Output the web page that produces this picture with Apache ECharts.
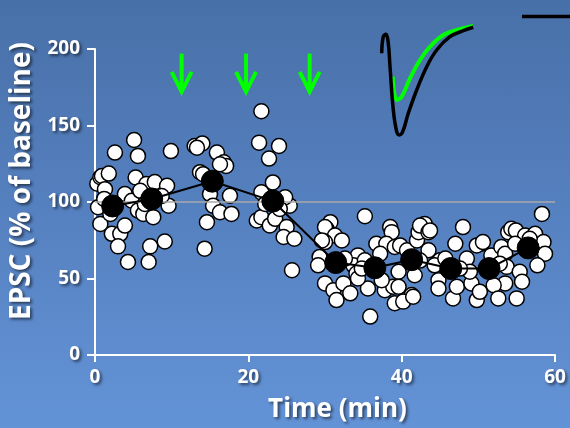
<!DOCTYPE html>
<html><head><meta charset="utf-8">
<script src="https://cdn.jsdelivr.net/npm/echarts@6/dist/echarts.min.js"></script>
<style>
html,body{margin:0;padding:0;width:570px;height:428px;overflow:hidden;}
body{background:linear-gradient(to bottom,#4870a8 0%,#5681c0 50%,#6393d7 100%);}
#c{width:570px;height:428px;}
</style></head>
<body><div id="c"></div>
<script>
// Individual EPSC values: [time (min), % of baseline]
const pointTimes = [0.3,0.7,0.9,1.3,1.8,0.4,0.7,2.2,3.3,3.9,3.0,4.3,2.6,5.1,5.6,5.3,3.9,4.8,5.6,6.3,6.7,5.9,7.8,9.4,7.6,9.6,7.2,9.1,7.0,9.9,6.5,8.7,2.0,1.2,
 13.0,14.0,13.3,15.9,16.8,17.1,16.3,13.7,14.1,17.6,15.0,15.4,16.3,17.8,14.6,14.3,
 21.7,21.4,24.0,22.7,23.2,21.7,21.1,21.7,22.8,23.5,25.0,24.6,26.0,25.4,24.8,25.7,22.2,24.1,
 30.7,30.2,30.0,31.3,32.2,30.0,29.6,29.3,29.1,34.3,33.7,34.1,30.0,31.1,31.5,32.4,33.3,35.9,35.2,38.5,38.7,36.7,38.0,37.2,39.1,35.6,37.8,38.9,39.1,37.4,35.2,34.3,32.6,34.8,
 39.6,39.8,40.7,42.0,42.2,43.0,42.4,43.5,43.7,43.5,41.7,39.6,41.3,40.2,41.5,48.0,47.0,45.0,44.3,45.7,44.8,44.8,46.7,47.2,48.5,49.1,48.9,49.8,50.4,49.8,42.4,47.6,
 50.6,51.7,53.0,53.5,53.7,55.4,55.7,53.5,52.0,52.6,55.0,50.2,53.9,54.3,54.9,56.1,57.4,58.5,58.7,57.7,58.3,56.7,54.8,52.8];
const pointValues = [112,116.2,117,108.4,118.6,96.6,85.7,79.2,79.2,84.6,71,60.8,132.3,140.5,130.1,116,105.2,100.8,94.4,92.2,111.7,107.3,113,110.6,90.1,97.6,71,74.2,60.8,133.3,98.7,103.9,92.2,102,
 136.6,138.3,135.5,132.3,126,123.6,124.7,119.5,118.2,104.1,105.2,97.6,93.3,92.2,86.8,69.5,
 159.3,138.8,136.6,128.4,112.8,106.3,87.9,90.1,84.7,89,83.6,77.1,76,97.6,103.1,55.4,98.7,95.5,
 86.8,82.5,83.6,78.1,74.9,73.8,74.9,64.1,58.6,65.1,58.6,53.2,46.8,42.4,35.9,46.8,40.3,25.1,90.7,83.6,80.3,72.7,72.7,66.2,70.6,43.5,42.4,44.6,33.8,48.9,61.9,50,63,56.5,
 54.4,71.6,68.4,74.9,80.3,85.7,84.6,80.3,81.4,68.4,52.1,44.6,39.2,34.9,38.1,83.6,72.7,61.9,58.6,63,48.9,43.5,37,44.6,63,46.8,54.4,35.9,72.7,71.6,61.7,56.5,
 73.8,65.1,70.6,66.2,57.6,54.4,47.9,46.8,45.6,37,37,41.3,80.3,82.5,81.4,78.1,79.2,73.8,66.2,58.6,92.2,76,72.7,59.7];
// 5-min averages
const meanTimes = [2.3,7.4,15.3,23.2,31.4,36.5,41.3,46.4,51.4,56.5];
const meanValues = [97.4,102,113.6,100.6,60.4,57,62.3,56.5,56.5,70];
// Stimulation arrows (min)
const arrowTimes = [11.3,19.7,28.0];
// Axis ticks
const xTicks = [0,20,40,60];
const yTicks = [0,50,100,150,200];
// Inset EPSC traces (ms, arbitrary current units)
const traceBaseT = [1.7,3.3,6.0,8.3,10.0,13.3,16.7,19.3,22.7,28.3,36.7,46.7,56.7,70.0,83.3,93.3];
const traceBaseI = [-43.3,-26.7,-24.3,-33.3,-56.7,-100,-121.7,-125,-121.7,-103.3,-80,-56.7,-40,-26.7,-20.7,-17.3];
const traceDrugT = [12.7,16.7,21.7,30.0,40.0,50.0,63.3,76.7,93.3];
const traceDrugI = [-66.7,-90,-86.7,-68.3,-50,-36.7,-25,-20,-16];
const scaleBarT = [142,190];
const scaleBarI = [-6.5,-6.5];

const txtShadow = {textShadowColor:'rgba(0,0,0,0.55)',textShadowBlur:3,textShadowOffsetX:2,textShadowOffsetY:2};
const font = 'Open Sans';
const scatterData = pointTimes.map((t,i)=>[t,pointValues[i]]);
const meanData = meanTimes.map((t,i)=>[t,meanValues[i]]);

const chart = echarts.init(document.getElementById('c'),null,{renderer:'canvas'});
chart.setOption({
  backgroundColor:'transparent',
  animation:false,
  grid:[{left:95,right:15,top:49,bottom:71},{left:380,top:10,width:190,height:130}],
  xAxis:[{
    type:'value',min:0,max:60,interval:20,gridIndex:0,
    name:'Time (min)',nameLocation:'middle',nameGap:42,
    nameTextStyle:Object.assign({color:'#fff',fontSize:26,fontWeight:'bold',fontFamily:font,padding:[0,0,0,25]},txtShadow),
    axisLine:{lineStyle:{color:'#fff',width:2}},
    axisTick:{show:true,length:7,lineStyle:{color:'#fff',width:2}},
    axisLabel:Object.assign({color:'#fff',fontSize:19,fontWeight:'bold',fontFamily:font,margin:13,
      formatter:v=>xTicks.includes(v)?String(v):''},txtShadow),
    splitLine:{show:false}
  },{type:'value',gridIndex:1,min:0,max:190,show:false}],
  yAxis:[{
    type:'value',min:0,max:200,interval:50,gridIndex:0,
    name:'EPSC (% of baseline)',nameLocation:'middle',nameGap:47,nameRotate:90,
    nameTextStyle:Object.assign({color:'#fff',fontSize:28,fontWeight:'bold',fontFamily:font,padding:[0,0,0,42]},txtShadow),
    axisLine:{show:true,lineStyle:{color:'#fff',width:2}},
    axisTick:{show:true,length:8,lineStyle:{color:'#fff',width:2}},
    axisLabel:Object.assign({color:'#fff',fontSize:19,fontWeight:'bold',fontFamily:font,margin:15,
      formatter:v=>yTicks.includes(v)?String(v):''},txtShadow),
    splitLine:{show:false}
  },{type:'value',gridIndex:1,min:-130,max:0,show:false}],
  series:[
    {type:'line',xAxisIndex:0,yAxisIndex:0,data:[],silent:true,
     markLine:{silent:true,symbol:'none',label:{show:false},lineStyle:{color:'#a9a9a9',width:1.5,type:'solid'},data:[{yAxis:100}]}},
    {type:'scatter',data:scatterData,symbol:'circle',symbolSize:15,z:3,
     itemStyle:{color:'#fff',borderColor:'#000',borderWidth:1.5,opacity:1}},
    {type:'line',data:meanData,symbol:'circle',symbolSize:22,z:5,
     lineStyle:{color:'#000',width:2},itemStyle:{color:'#000',borderColor:'#000'}},
    {type:'custom',data:arrowTimes.map(t=>[t]),z:4,
     renderItem:(params,api)=>{
       const x=api.value(0);
       const top=api.coord([x,197]),tip=api.coord([x,172]);
       const hl=api.coord([x-1.3,185]),hr=api.coord([x+1.3,185]);
       return {type:'group',children:[
         {type:'line',shape:{x1:top[0],y1:top[1],x2:tip[0],y2:tip[1]-2},style:{stroke:'#00ff00',lineWidth:4}},
         {type:'polyline',shape:{points:[hl,tip,hr]},style:{stroke:'#00ff00',lineWidth:4,fill:null,lineJoin:'miter'}}
       ]};
     }},
    {type:'line',xAxisIndex:1,yAxisIndex:1,data:traceDrugT.map((t,i)=>[t,traceDrugI[i]]),smooth:0.4,symbol:'none',clip:false,
     lineStyle:{color:'#00ff00',width:4},z:6},
    {type:'line',xAxisIndex:1,yAxisIndex:1,data:traceBaseT.map((t,i)=>[t,traceBaseI[i]]),smooth:0.4,symbol:'none',clip:false,
     lineStyle:{color:'#000',width:3.5},z:7},
    {type:'line',xAxisIndex:1,yAxisIndex:1,data:scaleBarT.map((t,i)=>[t,scaleBarI[i]]),symbol:'none',clip:false,
     lineStyle:{color:'#000',width:3.5},z:7}
  ]
});
</script></body></html>
